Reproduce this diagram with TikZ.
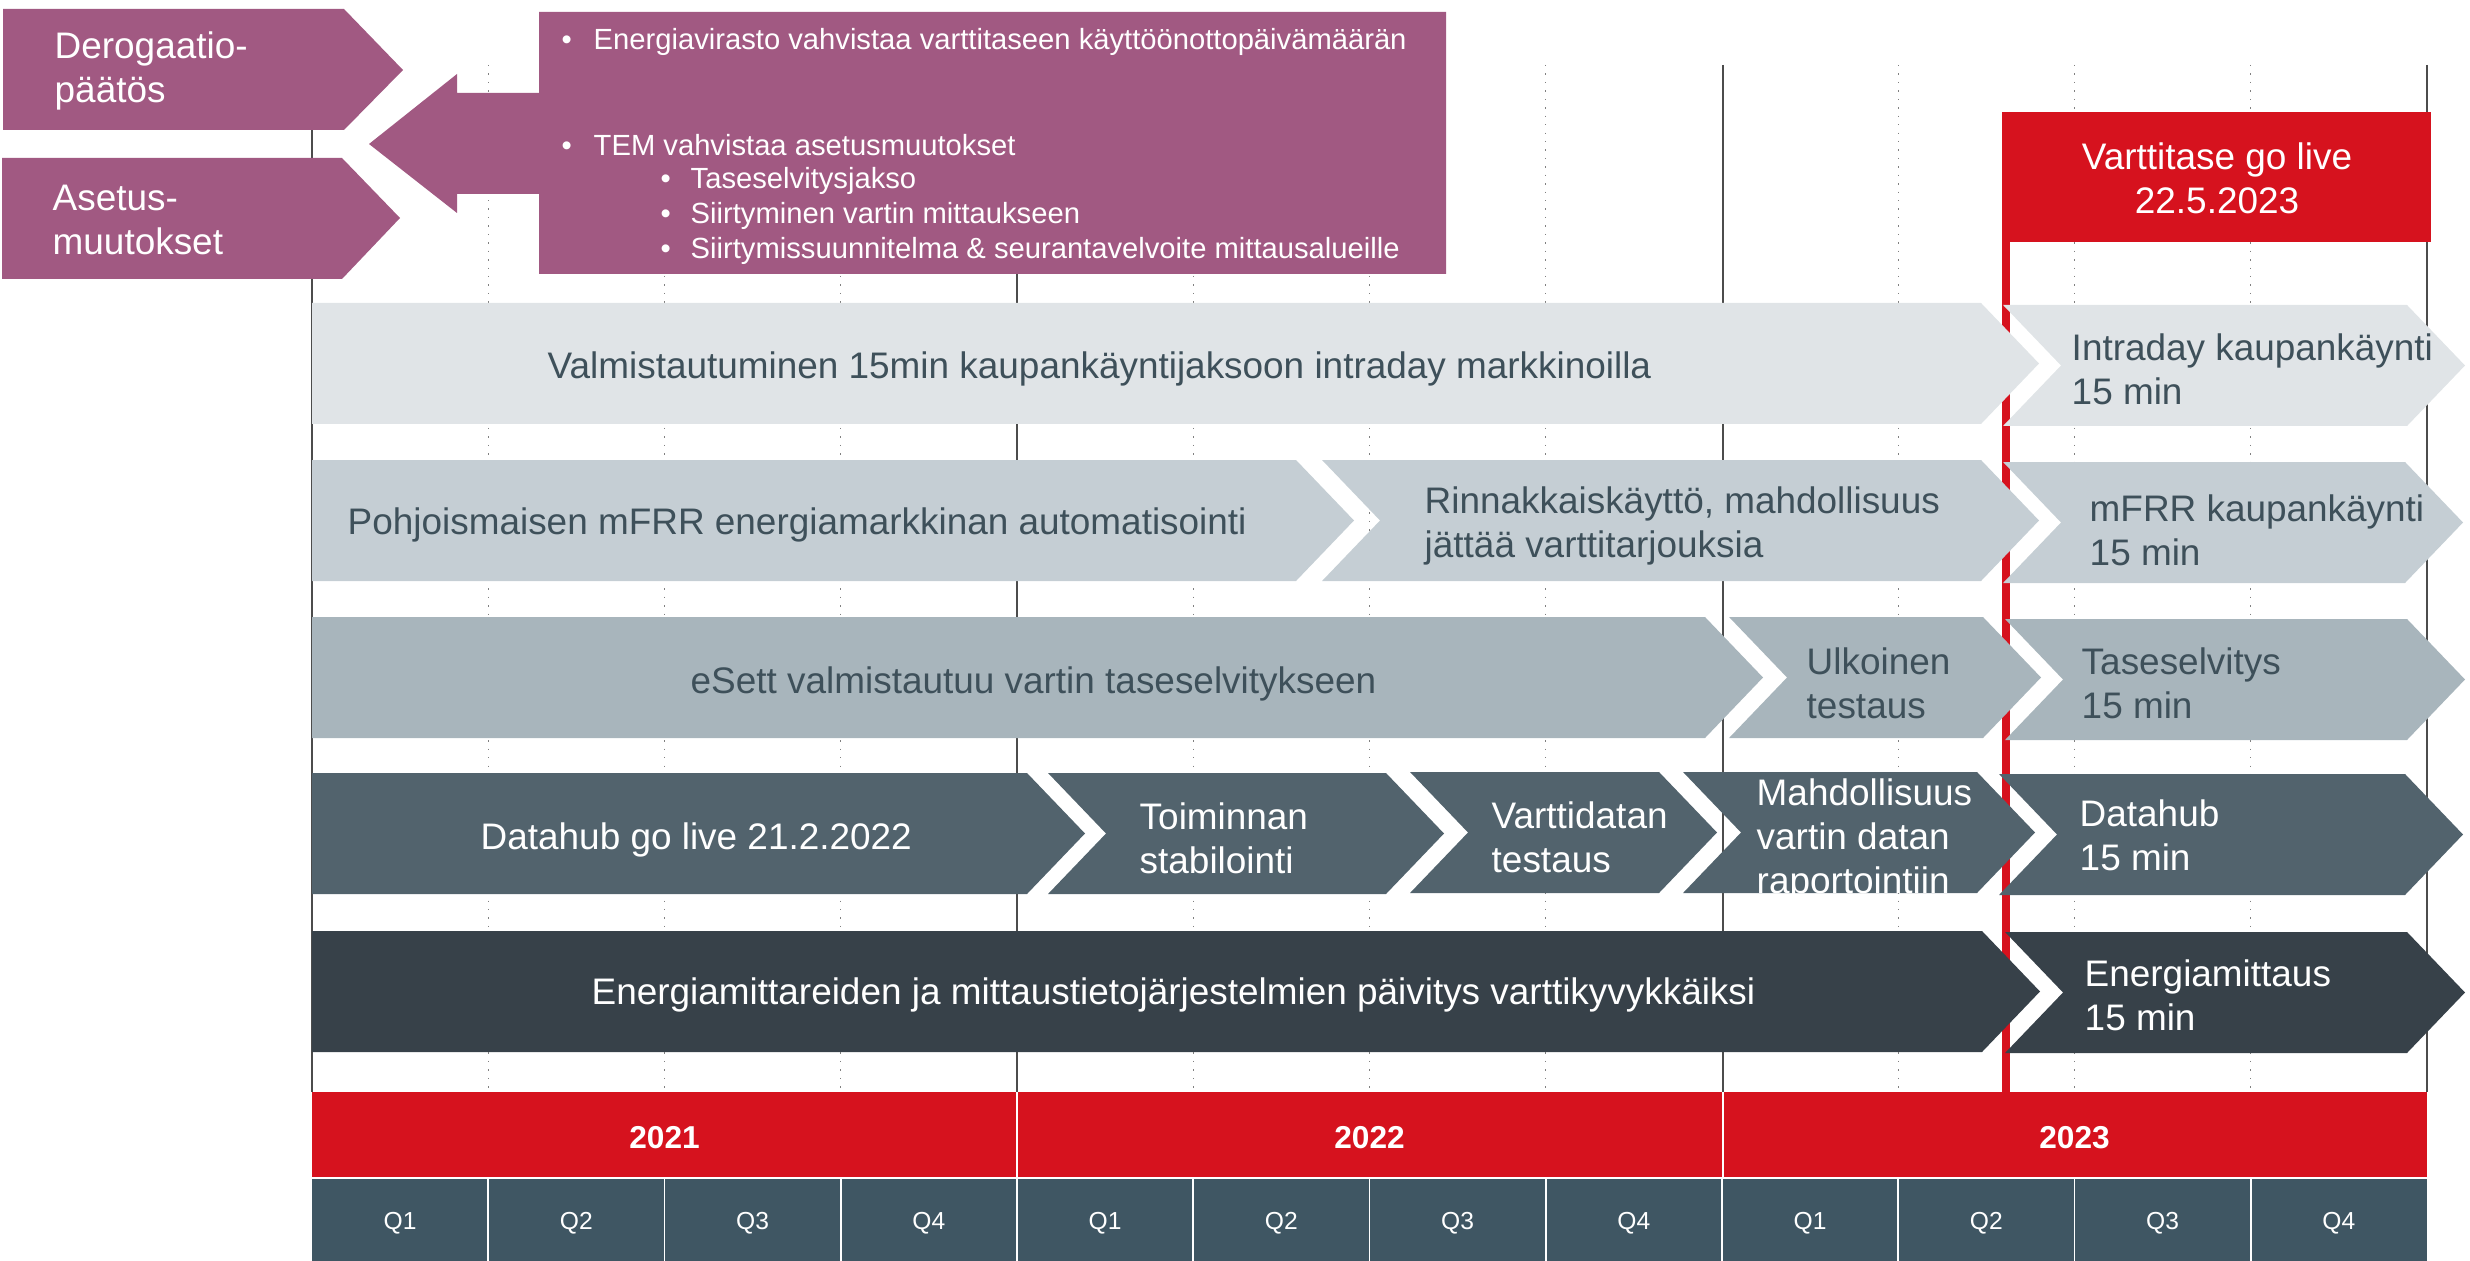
\documentclass[tikz,border=0pt]{standalone}
\usepackage{fontspec}
\setmainfont{Liberation Sans}
\usetikzlibrary{positioning}

\definecolor{purplebox}{RGB}{161,89,130}
\definecolor{redbar}{RGB}{214,18,30}
\definecolor{rowone}{RGB}{224,228,231}
\definecolor{rowtwo}{RGB}{197,206,212}
\definecolor{rowthree}{RGB}{168,181,188}
\definecolor{rowfour}{RGB}{82,99,109}
\definecolor{rowfive}{RGB}{55,65,73}
\definecolor{qbar}{RGB}{63,86,99}
\definecolor{darktext}{RGB}{62,80,90}

% bar with a point on the right: colour, left x, flat end x, top y, bottom y
\newcommand{\flatbar}[5]{%
  \fill[#1] (#2,#4) -- (#3,#4) -- ({#3+58},{(#4+#5)/2}) -- (#3,#5) -- (#2,#5) -- cycle;}
% same, with a notch on the left
\newcommand{\notchbar}[5]{%
  \fill[#1] (#2,#4) -- (#3,#4) -- ({#3+58},{(#4+#5)/2}) -- (#3,#5) -- (#2,#5) -- ({#2+58},{(#4+#5)/2}) -- cycle;}

\begin{document}
\begin{tikzpicture}[x=0.01cm, y=-0.01cm,
    lbl/.style={inner sep=0pt, align=left, anchor=west, font=\fontsize{10.5}{12.5}\selectfont},
    darklbl/.style={lbl, text=darktext},
    whitelbl/.style={lbl, text=white},
    bullettxt/.style={inner sep=0pt, anchor=west, text=white, font=\fontsize{8.3}{10}\selectfont},
    yearlbl/.style={text=white, font=\fontsize{9}{11}\selectfont\bfseries},
    qlbl/.style={text=white, font=\fontsize{7}{8}\selectfont},
    yearline/.style={gray!60!black, line width=0.4pt},
    quarterline/.style={gray, line width=0.4pt, dotted}]
    \useasboundingbox (0,0) rectangle (2470,1261);

    % Grid lines
    \foreach \x in {312,1017,1723,2427}
        \draw[yearline] (\x,65) -- (\x,1092);
    \foreach \i in {1,2,3,5,6,7,9,10,11}
        \draw[quarterline] ({312+176.25*\i},65) -- ({312+176.25*\i},1092);

    % Go live line (behind the bars)
    \draw[redbar, line width=0.08cm] (2006,112) -- (2006,1092);

    % Decision boxes
    \fill[purplebox] (3,9) -- (344,9) -- (403,70) -- (344,130) -- (3,130) -- cycle;
    \fill[purplebox] (2,158) -- (342,158) -- (400,218) -- (342,279) -- (2,279) -- cycle;
    \node[whitelbl] (derog) at (54,71) {Derogaatio-\\päätös};
    \node[whitelbl] (asetus) at (52,220) {Asetus-\\muutokset};

    % Purple arrow box
    \fill[purplebox] (1446,12) -- (1446,274) -- (539,274) -- (539,194) -- (457,194) -- (457,213)
        -- (369,144) -- (457,74) -- (457,93) -- (539,93) -- (539,12) -- cycle;
    \node[bullettxt] (energiavirasto) at (561,42) {\makebox[0.32cm][l]{\textbullet}Energiavirasto vahvistaa varttitaseen käyttöönottopäivämäärän};
    \node[bullettxt] (tem) at (561,145) {\makebox[0.32cm][l]{\textbullet}TEM vahvistaa asetusmuutokset};
    \node[bullettxt] (jakso) at (660,181) {\makebox[0.30cm][l]{\textbullet}Taseselvitysjakso};
    \node[bullettxt] (siirtyminen) at (660,216) {\makebox[0.30cm][l]{\textbullet}Siirtyminen vartin mittaukseen};
    \node[bullettxt] (suunnitelma) at (660,251) {\makebox[0.30cm][l]{\textbullet}Siirtymissuunnitelma \& seurantavelvoite mittausalueille};

    % Go live box
    \fill[redbar] (2003,112) rectangle (2431,242);
    \node[text=white, align=center, font=\fontsize{10.5}{12.5}\selectfont] (golive) at (2217,178) {Varttitase go live\\22.5.2023};

    % Row 1
    \flatbar{rowone}{312}{1981}{303}{424}
    \notchbar{rowone}{2003}{2407}{305}{426}
    \node[darklbl] (valmist) at (547,369) {Valmistautuminen 15min kaupankäyntijaksoon intraday markkinoilla};
    \node[darklbl] (intraday) at (2071,369) {Intraday kaupankäynti\\15 min};

    % Row 2
    \flatbar{rowtwo}{312}{1296}{460}{581}
    \notchbar{rowtwo}{1322}{1981}{460}{581}
    \notchbar{rowtwo}{2003}{2405}{462}{583}
    \node[darklbl] (mfrrauto) at (347,525) {Pohjoismaisen mFRR energiamarkkinan automatisointi};
    \node[darklbl] (rinnakkais) at (1424,526) {Rinnakkaiskäyttö, mahdollisuus\\jättää varttitarjouksia};
    \node[darklbl] (mfrr) at (2089,530) {mFRR kaupankäynti\\15 min};

    % Row 3
    \flatbar{rowthree}{312}{1705}{617}{738}
    \notchbar{rowthree}{1729}{1983}{617}{738}
    \notchbar{rowthree}{2005}{2407}{619}{740}
    \node[darklbl] (esett) at (690,684) {eSett valmistautuu vartin taseselvitykseen};
    \node[darklbl] (ulkoinen) at (1806,683) {Ulkoinen\\testaus};
    \node[darklbl] (tase) at (2081,683) {Taseselvitys\\15 min};

    % Row 4
    \flatbar{rowfour}{312}{1027}{773}{894}
    \notchbar{rowfour}{1048}{1386}{773}{894}
    \notchbar{rowfour}{1410}{1659}{772}{893}
    \notchbar{rowfour}{1683}{1977}{772}{893}
    \notchbar{rowfour}{1999}{2405}{774}{895}
    \node[whitelbl] (datahublive) at (480,840) {Datahub go live 21.2.2022};
    \node[whitelbl] (toiminnan) at (1139,838) {Toiminnan\\stabilointi};
    \node[whitelbl] (varttidata) at (1491,837) {Varttidatan\\testaus};
    \begin{scope}
        \clip (1683,772) -- (1977,772) -- (2035,832) -- (1977,893) -- (1683,893) -- (1741,832) -- cycle;
        \node[whitelbl] (mahdollisuus) at (1756,840) {Mahdollisuus\\vartin datan\\raportointiin};
    \end{scope}
    \node[whitelbl] (datahub) at (2079,835) {Datahub\\15 min};

    % Row 5
    \flatbar{rowfive}{312}{1982}{931}{1052}
    \notchbar{rowfive}{2005}{2407}{932}{1053}
    \node[whitelbl] (mittarit) at (591,995) {Energiamittareiden ja mittaustietojärjestelmien päivitys varttikyvykkäiksi};
    \node[whitelbl] (mittaus) at (2084,995) {Energiamittaus\\15 min};

    % Years and quarters
    \fill[redbar] (312,1092) rectangle (2427,1177);
    \foreach \x in {1017,1723}
        \draw[white, line width=0.4pt] (\x,1092) -- (\x,1177);
    \fill[qbar] (312,1179) rectangle (2427,1261);
    \foreach \i in {1,...,11}
        \draw[white, line width=0.5pt] ({312+176.25*\i},1179) -- ({312+176.25*\i},1261);
    \foreach \y [count=\k from 0] in {2021,2022,2023}
        \node[yearlbl] (year\y) at ({664.5+705*\k},1138) {\y};
    \foreach \k in {0,...,11} {
        \pgfmathtruncatemacro{\q}{mod(\k,4)+1}
        \node[qlbl] (q\k) at ({400.1+176.25*\k},1223) {Q\q};
    }
\end{tikzpicture}
\end{document}
